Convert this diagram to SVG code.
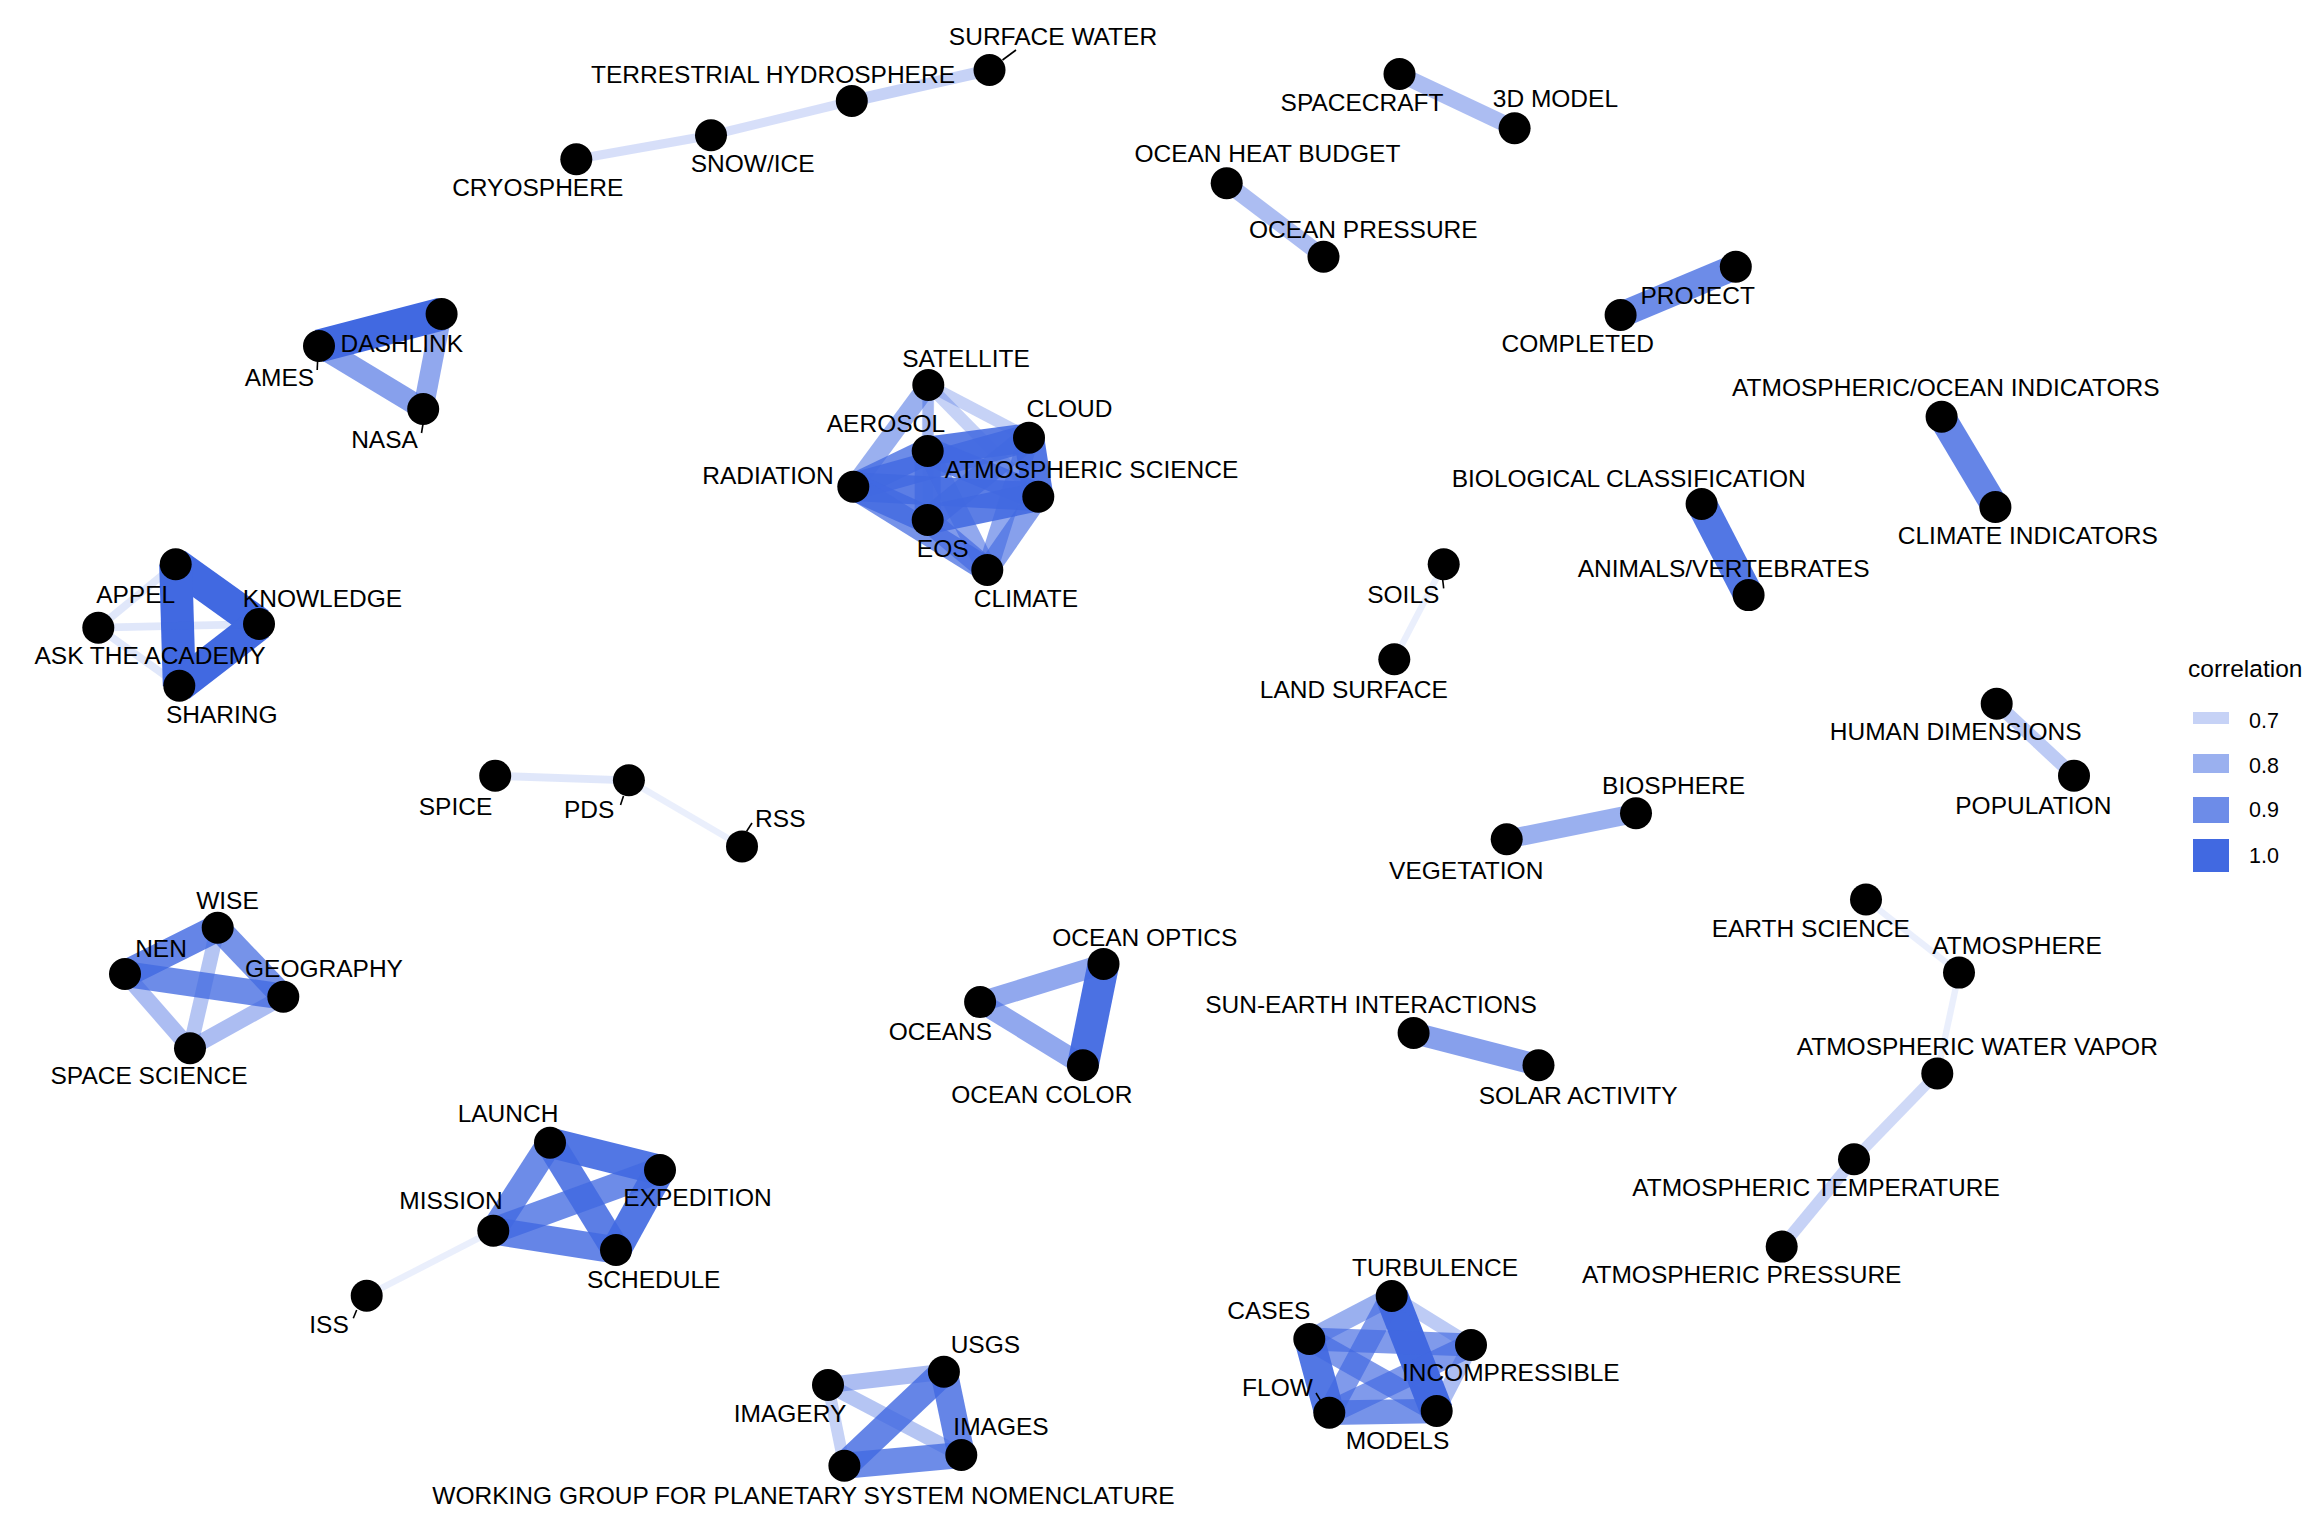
<svg xmlns="http://www.w3.org/2000/svg" width="2304" height="1536" viewBox="0 0 2304 1536">
<style>
text{font-family:"Liberation Sans",Arial,Helvetica,sans-serif;font-size:24.5px;fill:#000;text-anchor:middle}
.node circle{fill:#000}
.lead{stroke:#000;stroke-width:1.6}
#edges line,#legend line{stroke:#4169e1;stroke-linecap:butt;fill:none}
.r60{stroke-width:5;stroke-opacity:.07}
.r62{stroke-width:6.4;stroke-opacity:.11}
.r64{stroke-width:7.8;stroke-opacity:.16}
.r66{stroke-width:9.2;stroke-opacity:.21}
.r68{stroke-width:10.6;stroke-opacity:.25}
.r70{stroke-width:12;stroke-opacity:.3}
.r72{stroke-width:13.4;stroke-opacity:.35}
.r74{stroke-width:14.8;stroke-opacity:.39}
.r76{stroke-width:16.2;stroke-opacity:.44}
.r78{stroke-width:17.6;stroke-opacity:.49}
.r80{stroke-width:19;stroke-opacity:.53}
.r82{stroke-width:20.4;stroke-opacity:.58}
.r84{stroke-width:21.8;stroke-opacity:.63}
.r86{stroke-width:23.2;stroke-opacity:.67}
.r88{stroke-width:24.6;stroke-opacity:.72}
.r90{stroke-width:26;stroke-opacity:.77}
.r92{stroke-width:27.4;stroke-opacity:.81}
.r94{stroke-width:28.8;stroke-opacity:.86}
.r96{stroke-width:30.2;stroke-opacity:.91}
.r98{stroke-width:31.6;stroke-opacity:.95}
.r100{stroke-width:33;stroke-opacity:1}
.leg{font-size:21.5px;text-anchor:start}
.legt{text-anchor:start}
</style>
<rect width="2304" height="1536" fill="#fff"/>
<g id="edges">
<line class="r66" x1="576.3" y1="159.3" x2="711" y2="135.3"/>
<line class="r66" x1="711" y1="135.3" x2="851.8" y2="101"/>
<line class="r70" x1="851.8" y1="101" x2="989.5" y2="70"/>
<line class="r76" x1="1399.5" y1="74" x2="1514.6" y2="128.3"/>
<line class="r76" x1="1226.7" y1="183.3" x2="1323.5" y2="256.7"/>
<line class="r90" x1="1620.6" y1="315" x2="1735.8" y2="266.7"/>
<line class="r92" x1="1941.6" y1="416.7" x2="1995.4" y2="507"/>
<line class="r96" x1="1701.6" y1="504" x2="1748.6" y2="595.1"/>
<line class="r62" x1="1443.7" y1="564.3" x2="1394.3" y2="659.3"/>
<line class="r72" x1="1996.7" y1="703.7" x2="2074" y2="775.7"/>
<line class="r80" x1="1506.7" y1="839.3" x2="1636" y2="813.3"/>
<line class="r62" x1="1866" y1="899.5" x2="1959" y2="972.6"/>
<line class="r62" x1="1959" y1="972.6" x2="1937.3" y2="1073.4"/>
<line class="r68" x1="1937.3" y1="1073.4" x2="1854" y2="1159.2"/>
<line class="r70" x1="1854" y1="1159.2" x2="1781.7" y2="1246.6"/>
<line class="r84" x1="1413.6" y1="1033" x2="1538.5" y2="1065.3"/>
<line class="r98" x1="1103.5" y1="963.9" x2="1082.9" y2="1065.3"/>
<line class="r82" x1="980.1" y1="1002.1" x2="1103.5" y2="963.9"/>
<line class="r82" x1="980.1" y1="1002.1" x2="1082.9" y2="1065.3"/>
<line class="r100" x1="319" y1="346" x2="441.6" y2="314"/>
<line class="r84" x1="319" y1="346" x2="423.2" y2="409"/>
<line class="r82" x1="441.6" y1="314" x2="423.2" y2="409"/>
<line class="r64" x1="495.2" y1="775.8" x2="628.9" y2="780.3"/>
<line class="r62" x1="628.9" y1="780.3" x2="742" y2="846.4"/>
<line class="r100" x1="175.7" y1="564.3" x2="259" y2="624"/>
<line class="r100" x1="175.7" y1="564.3" x2="179.3" y2="685.7"/>
<line class="r100" x1="259" y1="624" x2="179.3" y2="685.7"/>
<line class="r64" x1="98.3" y1="627.7" x2="175.7" y2="564.3"/>
<line class="r64" x1="98.3" y1="627.7" x2="259" y2="624"/>
<line class="r64" x1="98.3" y1="627.7" x2="179.3" y2="685.7"/>
<line class="r92" x1="217.7" y1="927.7" x2="125" y2="974"/>
<line class="r88" x1="217.7" y1="927.7" x2="283.3" y2="996.7"/>
<line class="r90" x1="125" y1="974" x2="283.3" y2="996.7"/>
<line class="r76" x1="125" y1="974" x2="190" y2="1048.3"/>
<line class="r74" x1="217.7" y1="927.7" x2="190" y2="1048.3"/>
<line class="r76" x1="283.3" y1="996.7" x2="190" y2="1048.3"/>
<line class="r96" x1="550" y1="1142.7" x2="660" y2="1170"/>
<line class="r90" x1="550" y1="1142.7" x2="493.3" y2="1230.7"/>
<line class="r94" x1="550" y1="1142.7" x2="616" y2="1250"/>
<line class="r90" x1="660" y1="1170" x2="493.3" y2="1230.7"/>
<line class="r96" x1="660" y1="1170" x2="616" y2="1250"/>
<line class="r92" x1="493.3" y1="1230.7" x2="616" y2="1250"/>
<line class="r62" x1="493.3" y1="1230.7" x2="366.7" y2="1295.7"/>
<line class="r100" x1="1391.7" y1="1296" x2="1436.7" y2="1411"/>
<line class="r96" x1="1309.3" y1="1339" x2="1329.3" y2="1412.7"/>
<line class="r80" x1="1309.3" y1="1339" x2="1391.7" y2="1296"/>
<line class="r72" x1="1391.7" y1="1296" x2="1471" y2="1345"/>
<line class="r86" x1="1391.7" y1="1296" x2="1329.3" y2="1412.7"/>
<line class="r86" x1="1309.3" y1="1339" x2="1471" y2="1345"/>
<line class="r86" x1="1309.3" y1="1339" x2="1436.7" y2="1411"/>
<line class="r86" x1="1329.3" y1="1412.7" x2="1471" y2="1345"/>
<line class="r88" x1="1329.3" y1="1412.7" x2="1436.7" y2="1411"/>
<line class="r76" x1="1471" y1="1345" x2="1436.7" y2="1411"/>
<line class="r76" x1="828" y1="1385" x2="943.9" y2="1371.7"/>
<line class="r74" x1="828" y1="1385" x2="961.3" y2="1455"/>
<line class="r70" x1="828" y1="1385" x2="844.4" y2="1465.7"/>
<line class="r92" x1="943.9" y1="1371.7" x2="844.4" y2="1465.7"/>
<line class="r92" x1="943.9" y1="1371.7" x2="961.3" y2="1455"/>
<line class="r90" x1="961.3" y1="1455" x2="844.4" y2="1465.7"/>
<line class="r80" x1="928.3" y1="385" x2="853.3" y2="486.7"/>
<line class="r70" x1="928.3" y1="385" x2="1029" y2="437.7"/>
<line class="r70" x1="928.3" y1="385" x2="1038.3" y2="496.7"/>
<line class="r70" x1="928.3" y1="385" x2="927.7" y2="451"/>
<line class="r68" x1="928.3" y1="385" x2="927.7" y2="520"/>
<line class="r90" x1="853.3" y1="486.7" x2="927.7" y2="451"/>
<line class="r92" x1="853.3" y1="486.7" x2="1029" y2="437.7"/>
<line class="r94" x1="853.3" y1="486.7" x2="1038.3" y2="496.7"/>
<line class="r92" x1="853.3" y1="486.7" x2="927.7" y2="520"/>
<line class="r88" x1="853.3" y1="486.7" x2="987.3" y2="570"/>
<line class="r94" x1="927.7" y1="451" x2="1029" y2="437.7"/>
<line class="r92" x1="927.7" y1="451" x2="1038.3" y2="496.7"/>
<line class="r90" x1="927.7" y1="451" x2="927.7" y2="520"/>
<line class="r82" x1="927.7" y1="451" x2="987.3" y2="570"/>
<line class="r96" x1="1029" y1="437.7" x2="1038.3" y2="496.7"/>
<line class="r88" x1="1029" y1="437.7" x2="927.7" y2="520"/>
<line class="r82" x1="1029" y1="437.7" x2="987.3" y2="570"/>
<line class="r94" x1="1038.3" y1="496.7" x2="927.7" y2="520"/>
<line class="r84" x1="1038.3" y1="496.7" x2="987.3" y2="570"/>
<line class="r86" x1="927.7" y1="520" x2="987.3" y2="570"/>
</g>
<g id="n-surface-water" class="node"><circle cx="989.5" cy="70" r="16"/><line class="lead" x1="1002.5" y1="60" x2="1016" y2="50"/><text x="1053" y="45">SURFACE WATER</text></g>
<g id="n-terrestrial-hydrosphere" class="node"><circle cx="851.8" cy="101" r="16"/><text x="773" y="83">TERRESTRIAL HYDROSPHERE</text></g>
<g id="n-snow-ice" class="node"><circle cx="711" cy="135.3" r="16"/><text x="752.7" y="172">SNOW/ICE</text></g>
<g id="n-cryosphere" class="node"><circle cx="576.3" cy="159.3" r="16"/><text x="537.7" y="196">CRYOSPHERE</text></g>
<g id="n-spacecraft" class="node"><circle cx="1399.5" cy="74" r="16"/><text x="1362" y="111">SPACECRAFT</text></g>
<g id="n-3d-model" class="node"><circle cx="1514.6" cy="128.3" r="16"/><text x="1555.4" y="107">3D MODEL</text></g>
<g id="n-ocean-heat-budget" class="node"><circle cx="1226.7" cy="183.3" r="16"/><text x="1267.4" y="162">OCEAN HEAT BUDGET</text></g>
<g id="n-ocean-pressure" class="node"><circle cx="1323.5" cy="256.7" r="16"/><text x="1363.3" y="238">OCEAN PRESSURE</text></g>
<g id="n-project" class="node"><circle cx="1735.8" cy="266.7" r="16"/><text x="1697.7" y="304">PROJECT</text></g>
<g id="n-completed" class="node"><circle cx="1620.6" cy="315" r="16"/><text x="1577.7" y="352">COMPLETED</text></g>
<g id="n-atm-ocean-indicators" class="node"><circle cx="1941.6" cy="416.7" r="16"/><text x="1945.8" y="396">ATMOSPHERIC/OCEAN INDICATORS</text></g>
<g id="n-climate-indicators" class="node"><circle cx="1995.4" cy="507" r="16"/><text x="2027.8" y="544">CLIMATE INDICATORS</text></g>
<g id="n-biological-classification" class="node"><circle cx="1701.6" cy="504" r="16"/><text x="1628.7" y="487">BIOLOGICAL CLASSIFICATION</text></g>
<g id="n-animals-vertebrates" class="node"><circle cx="1748.6" cy="595.1" r="16"/><text x="1723.6" y="577">ANIMALS/VERTEBRATES</text></g>
<g id="n-soils" class="node"><circle cx="1443.7" cy="564.3" r="16"/><line class="lead" x1="1442.7" y1="580" x2="1443.7" y2="588.3"/><text x="1403.3" y="603">SOILS</text></g>
<g id="n-land-surface" class="node"><circle cx="1394.3" cy="659.3" r="16"/><text x="1353.8" y="698">LAND SURFACE</text></g>
<g id="n-human-dimensions" class="node"><circle cx="1996.7" cy="703.7" r="16"/><text x="1955.7" y="740">HUMAN DIMENSIONS</text></g>
<g id="n-population" class="node"><circle cx="2074" cy="775.7" r="16"/><text x="2033.3" y="814">POPULATION</text></g>
<g id="n-biosphere" class="node"><circle cx="1636" cy="813.3" r="16"/><text x="1673.6" y="794">BIOSPHERE</text></g>
<g id="n-vegetation" class="node"><circle cx="1506.7" cy="839.3" r="16"/><text x="1466.2" y="879">VEGETATION</text></g>
<g id="n-earth-science" class="node"><circle cx="1866" cy="899.5" r="16"/><text x="1810.8" y="937">EARTH SCIENCE</text></g>
<g id="n-atmosphere" class="node"><circle cx="1959" cy="972.6" r="16"/><text x="2017" y="954">ATMOSPHERE</text></g>
<g id="n-atm-water-vapor" class="node"><circle cx="1937.3" cy="1073.4" r="16"/><text x="1977.3" y="1055">ATMOSPHERIC WATER VAPOR</text></g>
<g id="n-atm-temperature" class="node"><circle cx="1854" cy="1159.2" r="16"/><text x="1816" y="1196">ATMOSPHERIC TEMPERATURE</text></g>
<g id="n-atm-pressure" class="node"><circle cx="1781.7" cy="1246.6" r="16"/><text x="1741.7" y="1283">ATMOSPHERIC PRESSURE</text></g>
<g id="n-sun-earth" class="node"><circle cx="1413.6" cy="1033" r="16"/><text x="1371" y="1013">SUN-EARTH INTERACTIONS</text></g>
<g id="n-solar-activity" class="node"><circle cx="1538.5" cy="1065.3" r="16"/><text x="1578.1" y="1104">SOLAR ACTIVITY</text></g>
<g id="n-ocean-optics" class="node"><circle cx="1103.5" cy="963.9" r="16"/><text x="1144.7" y="945.5">OCEAN OPTICS</text></g>
<g id="n-oceans" class="node"><circle cx="980.1" cy="1002.1" r="16"/><text x="940.4" y="1039.5">OCEANS</text></g>
<g id="n-ocean-color" class="node"><circle cx="1082.9" cy="1065.3" r="16"/><text x="1041.8" y="1102.7">OCEAN COLOR</text></g>
<g id="n-dashlink" class="node"><circle cx="441.6" cy="314" r="16"/><text x="401.8" y="352">DASHLINK</text></g>
<g id="n-ames" class="node"><circle cx="319" cy="346" r="16"/><line class="lead" x1="317.6" y1="361" x2="317.2" y2="370"/><text x="279.4" y="386">AMES</text></g>
<g id="n-nasa" class="node"><circle cx="423.2" cy="409" r="16"/><line class="lead" x1="423" y1="424" x2="421.5" y2="433"/><text x="384.5" y="448">NASA</text></g>
<g id="n-satellite" class="node"><circle cx="928.3" cy="385" r="16"/><text x="966" y="367">SATELLITE</text></g>
<g id="n-cloud" class="node"><circle cx="1029" cy="437.7" r="16"/><text x="1069.5" y="417">CLOUD</text></g>
<g id="n-aerosol" class="node"><circle cx="927.7" cy="451" r="16"/><text x="886" y="432">AEROSOL</text></g>
<g id="n-radiation" class="node"><circle cx="853.3" cy="486.7" r="16"/><text x="768" y="484">RADIATION</text></g>
<g id="n-atmospheric-science" class="node"><circle cx="1038.3" cy="496.7" r="16"/><text x="1091.5" y="478">ATMOSPHERIC SCIENCE</text></g>
<g id="n-eos" class="node"><circle cx="927.7" cy="520" r="16"/><text x="942.7" y="557">EOS</text></g>
<g id="n-climate" class="node"><circle cx="987.3" cy="570" r="16"/><text x="1026" y="607">CLIMATE</text></g>
<g id="n-appel" class="node"><circle cx="175.7" cy="564.3" r="16"/><text x="135.7" y="603">APPEL</text></g>
<g id="n-knowledge" class="node"><circle cx="259" cy="624" r="16"/><text x="322.5" y="607">KNOWLEDGE</text></g>
<g id="n-ask-the-academy" class="node"><circle cx="98.3" cy="627.7" r="16"/><text x="150" y="664">ASK THE ACADEMY</text></g>
<g id="n-sharing" class="node"><circle cx="179.3" cy="685.7" r="16"/><text x="221.7" y="723">SHARING</text></g>
<g id="n-spice" class="node"><circle cx="495.2" cy="775.8" r="16"/><text x="455.5" y="815">SPICE</text></g>
<g id="n-pds" class="node"><circle cx="628.9" cy="780.3" r="16"/><line class="lead" x1="623.5" y1="796" x2="620.5" y2="805"/><text x="589.2" y="818">PDS</text></g>
<g id="n-rss" class="node"><circle cx="742" cy="846.4" r="16"/><line class="lead" x1="746.5" y1="831.5" x2="752" y2="823"/><text x="780.3" y="827">RSS</text></g>
<g id="n-wise" class="node"><circle cx="217.7" cy="927.7" r="16"/><text x="227.5" y="909">WISE</text></g>
<g id="n-nen" class="node"><circle cx="125" cy="974" r="16"/><text x="161" y="957">NEN</text></g>
<g id="n-geography" class="node"><circle cx="283.3" cy="996.7" r="16"/><text x="324" y="977">GEOGRAPHY</text></g>
<g id="n-space-science" class="node"><circle cx="190" cy="1048.3" r="16"/><text x="149" y="1084">SPACE SCIENCE</text></g>
<g id="n-launch" class="node"><circle cx="550" cy="1142.7" r="16"/><text x="508" y="1122">LAUNCH</text></g>
<g id="n-expedition" class="node"><circle cx="660" cy="1170" r="16"/><text x="697.5" y="1206">EXPEDITION</text></g>
<g id="n-mission" class="node"><circle cx="493.3" cy="1230.7" r="16"/><text x="451" y="1209">MISSION</text></g>
<g id="n-schedule" class="node"><circle cx="616" cy="1250" r="16"/><text x="653.7" y="1288">SCHEDULE</text></g>
<g id="n-iss" class="node"><circle cx="366.7" cy="1295.7" r="16"/><line class="lead" x1="356.7" y1="1310" x2="353.3" y2="1318.3"/><text x="329" y="1333">ISS</text></g>
<g id="n-turbulence" class="node"><circle cx="1391.7" cy="1296" r="16"/><text x="1435" y="1276">TURBULENCE</text></g>
<g id="n-cases" class="node"><circle cx="1309.3" cy="1339" r="16"/><text x="1268.8" y="1319">CASES</text></g>
<g id="n-incompressible" class="node"><circle cx="1471" cy="1345" r="16"/><text x="1510.8" y="1381">INCOMPRESSIBLE</text></g>
<g id="n-flow" class="node"><circle cx="1329.3" cy="1412.7" r="16"/><line class="lead" x1="1316" y1="1393" x2="1320.5" y2="1400.5"/><text x="1277.5" y="1396">FLOW</text></g>
<g id="n-models" class="node"><circle cx="1436.7" cy="1411" r="16"/><text x="1397.5" y="1449">MODELS</text></g>
<g id="n-usgs" class="node"><circle cx="943.9" cy="1371.7" r="16"/><text x="985.4" y="1353">USGS</text></g>
<g id="n-imagery" class="node"><circle cx="828" cy="1385" r="16"/><text x="790" y="1422">IMAGERY</text></g>
<g id="n-images" class="node"><circle cx="961.3" cy="1455" r="16"/><text x="1001" y="1435">IMAGES</text></g>
<g id="n-wgpsn" class="node"><circle cx="844.4" cy="1465.7" r="16"/><text x="803.5" y="1504">WORKING GROUP FOR PLANETARY SYSTEM NOMENCLATURE</text></g>
<g id="legend">
<text class="legt" x="2188" y="677">correlation</text>
<line class="r70" x1="2193" y1="718" x2="2229" y2="718"/>
<line class="r80" x1="2193" y1="763.5" x2="2229" y2="763.5"/>
<line class="r90" x1="2193" y1="810" x2="2229" y2="810"/>
<line class="r100" x1="2193" y1="855.5" x2="2229" y2="855.5"/>
<text class="leg" x="2249" y="728">0.7</text>
<text class="leg" x="2249" y="773">0.8</text>
<text class="leg" x="2249" y="817">0.9</text>
<text class="leg" x="2249" y="863">1.0</text>
</g>
</svg>
